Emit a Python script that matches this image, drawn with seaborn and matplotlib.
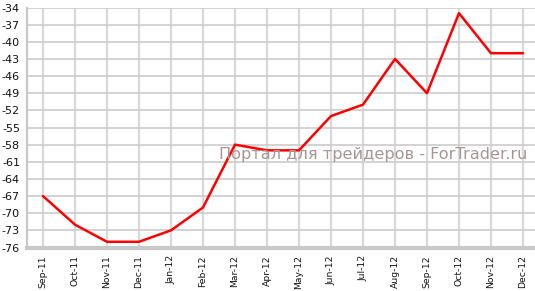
import matplotlib
matplotlib.use("Agg")
import matplotlib.pyplot as plt
import seaborn as sns
import pandas as pd

months = ["Sep-11", "Oct-11", "Nov-11", "Dec-11", "Jan-12", "Feb-12", "Mar-12", "Apr-12",
          "May-12", "Jun-12", "Jul-12", "Aug-12", "Sep-12", "Oct-12", "Nov-12", "Dec-12"]
values = [-67, -72, -75, -75, -73, -69, -58, -59, -59, -53, -51, -43, -49, -35, -42, -42]
yticks = list(range(-76, -33, 3))
watermark = "Портал для трейдеров - ForTrader.ru"

df = pd.DataFrame({"month": months, "value": values})

sns.set_style("white")
plt.rcParams["font.family"] = ["DejaVu Sans"]

W, H = 535, 291
fig = plt.figure(figsize=(W / 100, H / 100), dpi=100)
left, right, top, bottom = 27, 539, 7.5, 247.5
ax = fig.add_axes([left / W, 1 - bottom / H, (right - left) / W, (bottom - top) / H])

sns.lineplot(data=df, x="month", y="value", ax=ax, color="#ff0000", linewidth=1.8,
             sort=False, zorder=5)

ax.set_xlim(-0.5, 15.5)
ax.set_ylim(-76, -34)
ax.set_yticks(yticks)
ax.set_yticklabels([str(v) for v in yticks])
ax.set_xticks(range(len(months)))
ax.set_xticklabels(months, rotation=90)
ax.set_xlabel("")
ax.set_ylabel("")

ax.grid(True, axis="y", color="#cccccc", linewidth=1.2)
ax.grid(True, axis="x", color="#d9d9d9", linewidth=1.6)
ax.set_axisbelow(True)

for s in ["top", "right"]:
    ax.spines[s].set_visible(False)
ax.spines["left"].set_color("#c8c8c8")
ax.spines["left"].set_linewidth(1.6)
ax.spines["bottom"].set_color("#c8c8c8")
ax.spines["bottom"].set_linewidth(3)

ax.tick_params(axis="y", length=4, width=1, color="#c8c8c8", labelsize=8, pad=1,
               labelcolor="#111111")
ax.tick_params(axis="x", length=4, width=1, color="#c8c8c8", labelsize=6.7, pad=1.5,
               labelcolor="#111111")

ax.text(219 / W, 1 - 155 / H, watermark, transform=fig.transFigure, ha="left", va="center",
        fontsize=11.6, color="#a89696", zorder=6)

fig.savefig("out.png", dpi=100)
